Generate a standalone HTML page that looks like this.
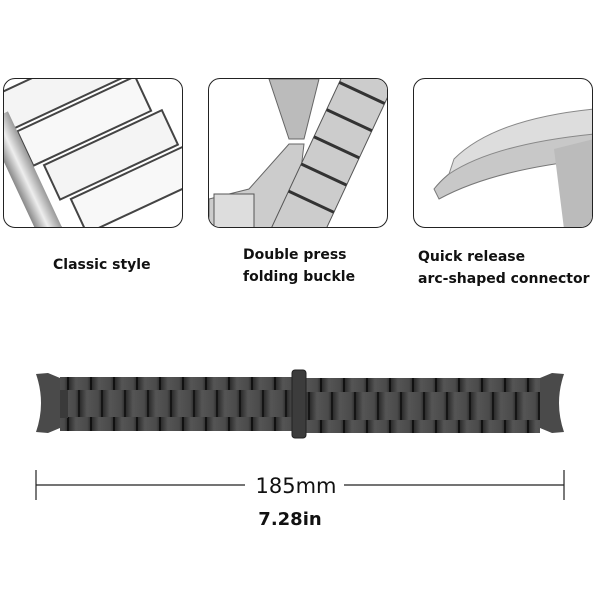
<!DOCTYPE html>
<html><head><meta charset="utf-8"><style>
body{margin:0;background:#fff;width:600px;height:600px;overflow:hidden;position:relative;font-family:"DejaVu Sans","Liberation Sans",sans-serif;}
.box{position:absolute;top:78px;width:180px;height:150px;border:1.5px solid #222;border-radius:12px;overflow:hidden;background:#fff;box-sizing:border-box}
.t{position:absolute;font-size:14px;font-weight:bold;color:#111;line-height:22px;white-space:nowrap}
</style></head><body>
<div class="box" style="left:3px">
<svg width="180" height="150">
<defs><linearGradient id="s" x1="0" x2="1"><stop offset="0" stop-color="#888"/><stop offset=".5" stop-color="#eee"/><stop offset="1" stop-color="#999"/></linearGradient></defs>
<path d="M0,40 Q20,110 60,150 L40,150 Q5,100 0,60Z" fill="#222"/>
<g transform="rotate(-25 90 75)">
<rect x="20" y="-20" width="130" height="38" fill="#f4f4f4" stroke="#444" stroke-width="2"/>
<rect x="30" y="22" width="130" height="38" fill="#f8f8f8" stroke="#444" stroke-width="2"/>
<rect x="40" y="64" width="130" height="38" fill="#f4f4f4" stroke="#444" stroke-width="2"/>
<rect x="50" y="106" width="130" height="38" fill="#f8f8f8" stroke="#444" stroke-width="2"/>
<rect x="5" y="0" width="25" height="140" fill="url(#s)"/>
</g></svg></div>
<div class="box" style="left:208px">
<svg width="180" height="150">
<path d="M60,0 L110,0 L95,60 L80,60Z" fill="#bbb" stroke="#666"/>
<path d="M80,65 L95,65 L85,150 L0,150 L0,120 L40,110Z" fill="#ccc" stroke="#666"/>
<rect x="5" y="115" width="40" height="35" fill="#ddd" stroke="#555"/>
<g transform="rotate(25 130 75)"><rect x="100" y="-20" width="50" height="190" fill="#ccc" stroke="#555"/>
<path d="M100,10h50M100,40h50M100,70h50M100,100h50M100,130h50" stroke="#333" stroke-width="3"/></g>
</svg></div>
<div class="box" style="left:413px">
<svg width="180" height="150">
<path d="M20,110 Q60,60 180,50 L180,80 Q80,90 25,120Z" fill="#c8c8c8" stroke="#777"/>
<path d="M40,80 Q80,40 180,30 L180,55 Q80,65 35,95Z" fill="#ddd" stroke="#888"/>
<path d="M140,70 L180,60 L180,150 L150,150Z" fill="#bbb"/>
</svg></div>
<div class="t" style="left:53px;top:254px">Classic style</div>
<div class="t" style="left:243px;top:244px">Double press<br>folding buckle</div>
<div class="t" style="left:418px;top:246px">Quick release<br>arc-shaped connector</div>
<svg style="position:absolute;left:0;top:0" width="600" height="600">
<defs>
<linearGradient id="g" x1="0" x2="1"><stop offset="0" stop-color="#2c2c2c"/><stop offset=".3" stop-color="#555"/><stop offset=".8" stop-color="#4a4a4a"/><stop offset="1" stop-color="#222"/></linearGradient>
<pattern id="p1" x="0" y="0" width="23" height="100" patternUnits="userSpaceOnUse"><rect width="23" height="100" fill="url(#g)"/><rect x="21" width="2" height="100" fill="#111"/></pattern>
<pattern id="p2" x="11" y="0" width="23" height="100" patternUnits="userSpaceOnUse"><rect width="23" height="100" fill="url(#g)"/><rect x="21" width="2" height="100" fill="#151515"/></pattern>
</defs>
<path d="M36,374 L48,373 L60,378 L60,428 L48,433 L36,432 Q46,403 36,374Z" fill="#4a4a4a"/>
<path d="M564,374 L552,373 L540,378 L540,428 L552,433 L564,432 Q554,403 564,374Z" fill="#4a4a4a"/>
<rect x="60" y="377" width="232" height="14" fill="url(#p1)"/>
<rect x="60" y="390" width="232" height="28" fill="url(#p2)"/>
<rect x="60" y="417" width="232" height="14" fill="url(#p1)"/>
<rect x="306" y="378" width="234" height="14" fill="url(#p1)"/>
<rect x="306" y="392" width="234" height="28" fill="url(#p2)"/>
<rect x="306" y="420" width="234" height="13" fill="url(#p1)"/>
<rect x="60" y="390" width="8" height="28" fill="#3a3a3a"/>
<rect x="292" y="370" width="14" height="68" rx="3" fill="#3c3c3c" stroke="#222"/>
<line x1="36" y1="485" x2="245" y2="485" stroke="#222" stroke-width="1.2"/>
<line x1="344" y1="485" x2="564" y2="485" stroke="#222" stroke-width="1.2"/>
<line x1="36" y1="470" x2="36" y2="500" stroke="#222" stroke-width="1.2"/>
<line x1="564" y1="470" x2="564" y2="500" stroke="#222" stroke-width="1.2"/>
<text x="296" y="493" text-anchor="middle" font-family="DejaVu Sans, sans-serif" font-size="21" fill="#111">185mm</text>
<text x="290" y="525" text-anchor="middle" font-family="DejaVu Sans, sans-serif" font-size="18" font-weight="bold" fill="#111">7.28in</text>
</svg>
</body></html>
